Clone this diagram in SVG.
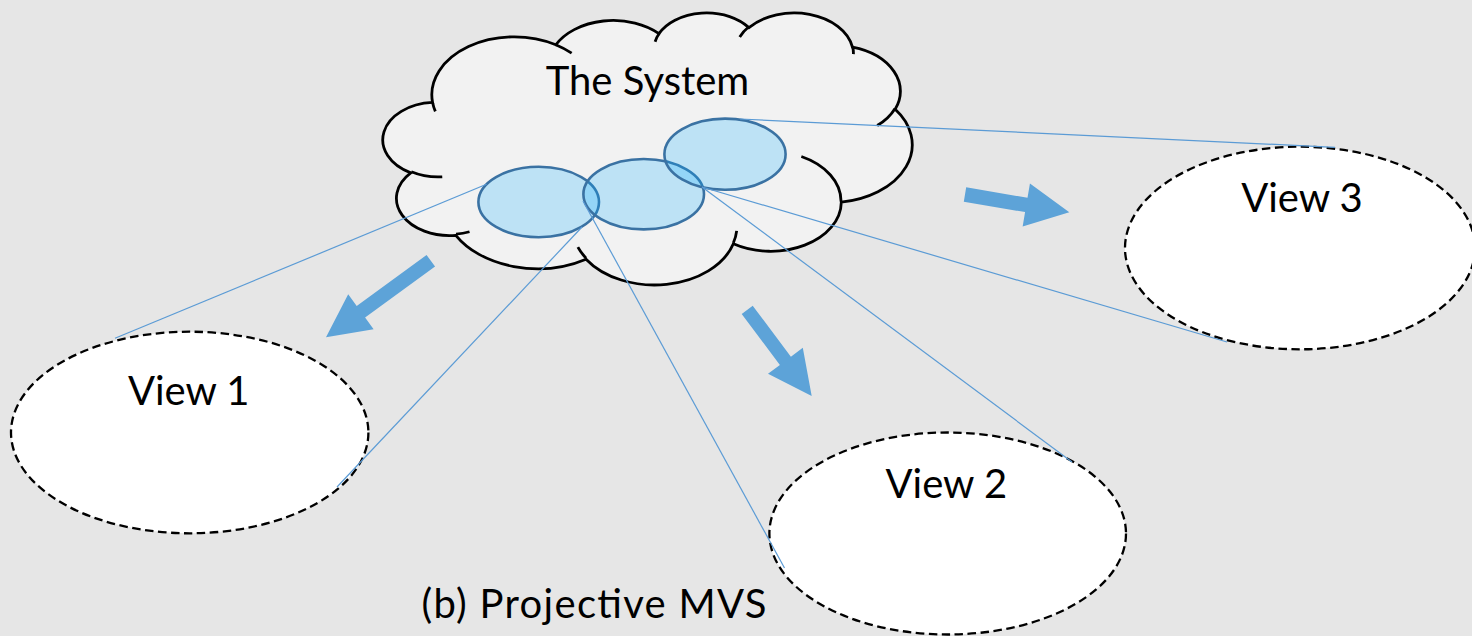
<svg xmlns="http://www.w3.org/2000/svg" width="1472" height="636" viewBox="0 0 1472 636">
  <style>
    .label { font-family: Lato, "Liberation Sans", sans-serif; font-size: 40px; fill: #000; text-anchor: middle; }
    .cloud { fill: #f2f2f2; stroke: #000; stroke-width: 2.8; }
    .cloud-inner { fill: none; stroke: #000; stroke-width: 2.8; }
    .part { fill: #08abff; fill-opacity: 0.226; stroke: #3a72a3; stroke-width: 2.6; }
    .view { fill: #fff; stroke: #000; stroke-width: 2.3; stroke-dasharray: 8.5 4.5; }
    .proj { stroke: #5b9bd5; stroke-width: 1.2; fill: none; }
    .flow { fill: #5da3d8; }
  </style>

  <rect x="0" y="0" width="1472" height="636" fill="#e6e6e6"/>

  <!-- the whole system: cloud with three overlapping parts -->
  <g id="system">
    <g transform="translate(385,12) scale(0.012199,0.006296)">
      <path class="cloud" vector-effect="non-scaling-stroke" d="M3900,14370 A6753,9190 0 0 1 14005,5202 A5333,7267 0 0 1 22456,3432 A4365,5945 0 0 1 29833,2480 A4857,6595 0 0 1 38318,5576 A5333,7273 0 0 1 41819,15460 A6775,9220 0 0 1 37404,30202 A5785,7867 0 0 1 28556,36813 A6752,9215 0 0 1 16481,39264 A7720,10543 0 0 1 5804,35468 A4360,5918 0 0 1 2113,25547 A4345,5945 0 0 1 3900,14370 Z"/>
      <path class="cloud-inner" vector-effect="non-scaling-stroke" d="M4693,26177 A4345,5945 0 0 1 2159,25379 M6928,34899 A4360,5918 0 0 1 5820,35280 M16478,39090 A6752,9215 0 0 1 15810,37350 M28827,34751 A6752,9215 0 0 1 28560,36660 M34129,22954 A5785,7867 0 0 1 37381,30090 M41798,15354 A5333,7273 0 0 1 40350,18030 M38324,5426 A4857,6595 0 0 1 38400,6690 M29078,3952 A4857,6595 0 0 1 29820,2340 M22141,4720 A4365,5945 0 0 1 22500,3330 M14000,5192 A6753,9190 0 0 1 15300,6541 M4127,15789 A6753,9190 0 0 1 3901,14372"/>
    </g>
    <text class="label" x="647.5" y="95">The System</text>
    <ellipse id="part-a" class="part" cx="538.7" cy="202" rx="60.3" ry="35.3"/>
    <ellipse id="part-b" class="part" cx="643.7" cy="194.2" rx="60.3" ry="35.2"/>
    <ellipse id="part-c" class="part" cx="725" cy="154.2" rx="60.6" ry="35.6"/>
  </g>

  <g id="view1">
    <ellipse class="view" cx="189.7" cy="432.5" rx="178.7" ry="100.8"/>
    <text class="label" x="188.7" y="405">View 1</text>
  </g>

  <g id="view2">
    <ellipse class="view" cx="947.7" cy="533.5" rx="178.3" ry="101"/>
    <text class="label" x="946.3" y="498">View 2</text>
  </g>

  <g id="view3">
    <ellipse class="view" cx="1300" cy="248" rx="175" ry="101.3"/>
    <text class="label" x="1302" y="212">View 3</text>
  </g>

  <!-- projection lines and direction arrows -->
  <g id="connectors">
    <line class="proj" x1="486.5" y1="184.3" x2="115" y2="338.3"/>
    <line class="proj" x1="582" y1="227" x2="337" y2="487"/>
    <line class="proj" x1="583" y1="201" x2="784.5" y2="568"/>
    <line class="proj" x1="702" y1="187" x2="1072" y2="462"/>
    <line class="proj" x1="702" y1="187" x2="1227" y2="342"/>
    <line class="proj" x1="740" y1="119" x2="1335" y2="147.3"/>

    <polygon class="flow" points="426.55,255 435.05,266.6 365.1,317.6 373.6,329.3 326,337.3 348.2,294.3 356.7,306"/>
    <polygon class="flow" points="741.7,314 779.9,365 768,373.85 811.7,396 802.8,347.85 790.9,356.7 752.7,305.7"/>
    <polygon class="flow" points="966.2,187.3 1027.5,197.8 1029.95,183.6 1069.3,212.3 1022.65,226.4 1025.1,212.1 963.8,201.7"/>
  </g>

  <text id="caption" class="label" x="594" y="618" textLength="345" lengthAdjust="spacing">(b) Projective MVS</text>
</svg>
